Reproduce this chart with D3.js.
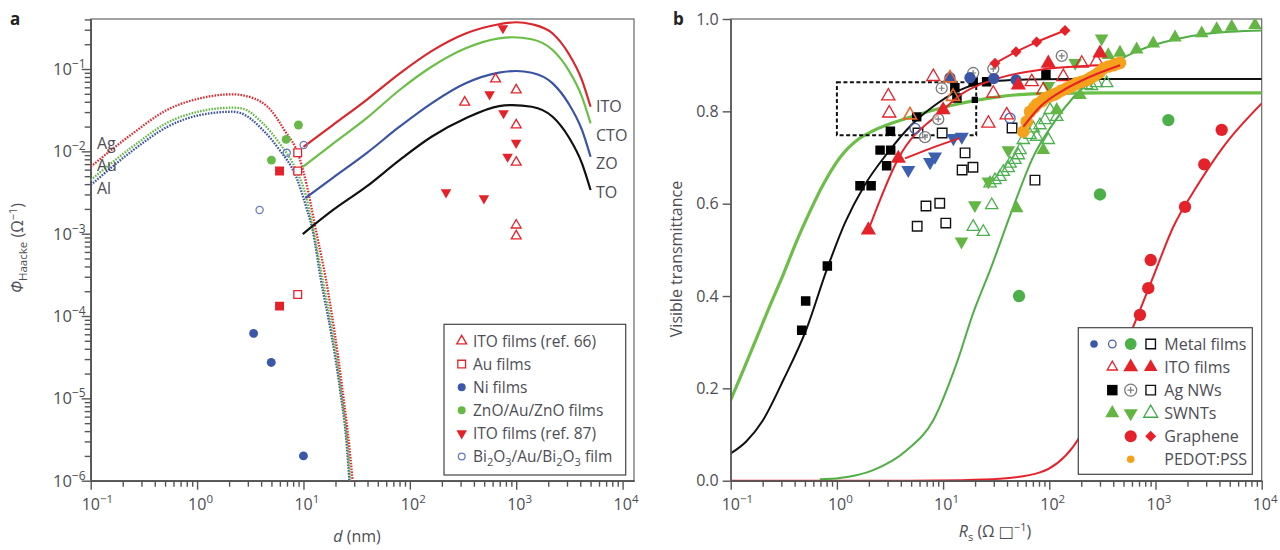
<!DOCTYPE html>
<html><head><meta charset="utf-8">
<script src="https://cdn.jsdelivr.net/npm/d3@7/dist/d3.min.js"></script>
<style>html,body{margin:0;padding:0;background:#fff}svg{display:block}</style>
</head><body>
<svg id="chart" width="1280" height="550"></svg>
<script>
// ================= Panel a data =================
const aXTicks = [0.1, 1, 10, 100, 1000, 10000];
const aYTicks = [1e-6, 1e-5, 1e-4, 1e-3, 1e-2, 1e-1];
// metal films (dotted)
const agCurve = [[0.1,0.0065],[0.25,0.0166],[0.52,0.0318],[1.06,0.044],[2.16,0.0493],[2.6,0.0483],[4.6,0.0348],[6.6,0.0182],[9.1,0.0086],[11,3.39e-3],[13.1,1.1e-3],[16.3,2.73e-4],[19.5,6.7e-5],[23.3,1.26e-5],[27,2.58e-6],[29,1e-6]];
const auCurve = [[0.1,4.48e-3],[0.25,0.0115],[0.52,0.0221],[1.06,0.0306],[2.16,0.0339],[2.6,0.0333],[4.15,0.0219],[5.96,0.0125],[8.54,5.93e-3],[10.6,2.81e-3],[12.2,1.21e-3],[15.2,2.73e-4],[18.8,6.2e-5],[22.5,1.26e-5],[26,2.58e-6],[27.5,1e-6]];
const alCurve = [[0.1,3.89e-3],[0.25,0.0103],[0.52,0.0197],[1.06,0.0276],[2.16,0.0303],[2.6,0.029],[4.15,0.0182],[5.96,0.0104],[8.54,4.9e-3],[10.6,2.12e-3],[12.2,1.1e-3],[14.6,2.73e-4],[18.2,6.2e-5],[22.1,1.26e-5],[25.6,2.58e-6],[27,1e-6]];
// oxide films (solid)
const itoCurve = [[10,0.0113],[19,0.021],[39,0.042],[80,0.088],[160,0.165],[335,0.27],[690,0.35],[1000,0.37],[1400,0.35],[2200,0.27],[3100,0.155],[4150,0.0735],[5000,0.0348]];
const ctoCurve = [[9.8,6.44e-3],[19,0.01245],[39,0.0251],[80,0.0556],[160,0.1066],[335,0.1786],[690,0.236],[920,0.243],[1400,0.230],[2200,0.170],[3100,0.0972],[4150,0.046],[5000,0.0219]];
const zoCurve = [[10.4,2.71e-3],[19,4.81e-3],[39,9.46e-3],[80,0.0199],[160,0.0383],[335,0.067],[690,0.0902],[1000,0.0946],[1400,0.0902],[2200,0.067],[3100,0.0383],[4150,0.0182],[5000,8.59e-3]];
const toCurve = [[9.85,9.9e-4],[19,1.94e-3],[39,3.72e-3],[80,7.83e-3],[160,0.01503],[335,0.0252],[690,0.0355],[920,0.0365],[1400,0.0348],[2200,0.0263],[3100,0.01503],[4150,7.15e-3],[5000,3.39e-3]];
// scatter
const ito66 = [[640,0.0756],[328,0.0394],[1000,0.0556],[1000,0.0209],[1000,7.35e-3],[1000,1.27e-3],[1000,9.36e-4]];
const auFilms = [[8.83,9.62e-3],[8.83,5.77e-3],[8.83,1.83e-4]];
const auFilledSq = [[5.96,5.77e-3],[5.96,1.32e-4]];
const niFilms = [[3.40,6.15e-5],[4.98,2.73e-5],[10,2.0e-6]];
const znoFilms = [[5.0,7.83e-3],[6.88,0.014],[8.97,0.0209]];
const ito87 = [[750,0.313],[562,0.0493],[760,0.029],[998,0.0127],[830,8.59e-3],[219,3.18e-3],[497,2.69e-3]];
const bi2o3Films = [[3.87,1.94e-3],[6.97,9.6e-3],[10.05,0.01194]];

// ================= Panel b data =================
const bXTicks = [0.1, 1, 10, 100, 1000, 10000];
const bYTicks = [0, 0.2, 0.4, 0.6, 0.8, 1.0];
const zoomBox = [1, 20.5, 0.748, 0.863]; // Rs from, Rs to, T from, T to
// fits
const fitGreenThick = [[0.1,0.175],[0.13,0.237],[0.176,0.31],[0.24,0.385],[0.313,0.447],[0.42,0.52],[0.52,0.568],[0.75,0.643],[1.07,0.70],[1.6,0.74],[2.2,0.758],[4.54,0.785],[11.6,0.812],[34.3,0.832],[100,0.839],[300,0.840],[10000,0.840]];
const fitBlack = [[0.1,0.059],[0.14,0.085],[0.2,0.13],[0.313,0.218],[0.52,0.33],[0.8,0.456],[1.2,0.56],[1.8,0.638],[3,0.71],[5,0.77],[8,0.81],[14,0.845],[30,0.865],[60,0.869],[150,0.87],[10000,0.87]];
const fitGreenSteep = [[0.69,0.003],[1.07,0.006],[2.2,0.023],[4.54,0.066],[8.09,0.131],[13.4,0.254],[19.2,0.363],[27.7,0.456],[45.8,0.593],[70.7,0.702],[109,0.774],[168,0.83],[300,0.88],[463,0.912],[665,0.93],[1472,0.955],[3034,0.968],[10000,0.975]];
const fitGraphene = [[0.1,0],[5,0],[15,0.001],[34.3,0.004],[81.7,0.018],[168,0.074],[259,0.146],[431,0.254],[618,0.334],[953,0.442],[1472,0.55],[2443,0.637],[4350,0.723],[10000,0.817]];
const fitIto = [[1.98,0.543],[3.79,0.698],[10,0.803],[14.4,0.835],[29.5,0.868],[87.3,0.891],[320,0.900]];
const fitItoShort = [[4.38,0.698],[8.1,0.722],[14.4,0.742]];
const fitPedot = [[57,0.767],[82,0.81],[146,0.85],[242,0.875],[463,0.9]];
// scatter
const metalBlue = [[11.6,0.873],[17.9,0.873],[30,0.871],[48.6,0.868]];
const metalBlueOpen = [[5.44,0.763],[42.7,0.785]];
const metalGreen = [[51.9,0.40],[300,0.62],[1321,0.781]];
const openSquares = [[5.8,0.753],[9.8,0.753],[16.1,0.71],[19.1,0.679],[15.1,0.673],[6.9,0.595],[9.3,0.601],[5.7,0.551],[10.6,0.558],[73.3,0.651],[44.6,0.764]];
const itoOpen = [[8.09,0.875],[3.05,0.833],[3.11,0.796],[29.7,0.839],[68.3,0.864],[87.8,0.846],[135.5,0.875],[202,0.904],[279,0.908],[26.7,0.774],[39.7,0.792]];
const itoOpenOrange = [[4.88,0.792],[11.6,0.872],[12.4,0.832]];
const itoFilled = [[1.98,0.543],[3.79,0.698],[10,0.803],[51.1,0.857],[97.9,0.904],[300,0.926]];
const agNwFilled = [[0.466,0.326],[0.508,0.389],[0.813,0.465],[1.65,0.639],[2.10,0.639],[2.55,0.716],[3.21,0.716],[2.94,0.682],[3.19,0.757],[5.64,0.788],[12.9,0.851],[13.5,0.829],[19.2,0.864],[25.7,0.864],[93,0.880]];
const agNwFilledSmall = [[19.9,0.825]];
const agNwPlus = [[9.7,0.850],[9.0,0.783],[6.75,0.744],[19.2,0.883],[29.7,0.892],[131,0.920]];
const blueDown = [[4.70,0.673],[7.53,0.690],[8.39,0.702],[12.5,0.742],[15.0,0.745]];
const swntUp = [[49.3,0.59],[87.8,0.716],[117.5,0.803],[194.5,0.835],[359,0.922],[463,0.927],[665,0.934],[953,0.947],[1527,0.960],[2723,0.969],[3770,0.978],[5220,0.983],[8650,0.987]];
const swntDown = [[311,0.958],[175,0.905],[98,0.855],[41.1,0.716],[26.7,0.648],[19.9,0.597],[14.9,0.518]];
const swntOpen = [[28.7,0.597],[19.2,0.55],[23.9,0.539],[27.7,0.644],[30.8,0.651],[34.3,0.658],[36.9,0.669],[41.1,0.677],[42.7,0.687],[47.5,0.695],[51.1,0.705],[53,0.716],[56.9,0.738],[65.8,0.749],[70.7,0.763],[81.7,0.770],[91.1,0.781],[101.6,0.803],[117.5,0.788],[98,0.738],[76,0.745],[225,0.857],[250,0.855],[279,0.861],[347,0.861]];
const grapheneCircle = [[714,0.359],[855,0.417],[901,0.478],[1897,0.593],[2879,0.685],[4200,0.760]];
const grapheneDiamond = [[30.8,0.904],[48.6,0.929],[76,0.950],[140.6,0.975]];
const pedot = [[56.9,0.756],[61.3,0.778],[65.8,0.799],[72,0.808],[76,0.815],[85,0.822],[91.1,0.828],[100,0.832],[110,0.836],[117.5,0.839],[130,0.845],[146,0.850],[157,0.853],[170,0.857],[181,0.861],[200,0.864],[225,0.868],[242,0.872],[260,0.876],[285,0.882],[300,0.885],[323,0.893],[360,0.897],[401,0.900],[430,0.903],[463,0.905]];

// ================= drawing =================
const FONT = '"Open Sans", "Noto Sans", "DejaVu Sans", sans-serif';
const TXT = '#4d4d55';
const AXC = '#555';
const RED = '#e5222a', GREEN = '#66b946', BLUE = '#3b57a7', ORANGE = '#f6a11c', ORTRI = '#e8682a', GRAY = '#7b7b7b';

const svg = d3.select('#chart').attr('font-family', FONT);

function minorLog(lo, hi, max) {
  const out = [];
  for (let k = lo; k <= hi; k++) for (let m = 2; m <= 9; m++) { const v = m * Math.pow(10, k); if (v <= max) out.push(v); }
  return out;
}
function marks(g, data, xs, ys, o) {
  const gen = d3.symbol().type(o.type).size(o.size);
  g.append('g').selectAll('path').data(data).join('path')
    .attr('d', gen)
    .attr('transform', d => `translate(${xs(d[0])},${ys(d[1])})` + (o.rot ? ` rotate(${o.rot})` : ''))
    .attr('fill', o.fill || 'none').attr('stroke', o.stroke || 'none').attr('stroke-width', o.sw || 1)
    .attr('opacity', o.op || 1);
}
function plusMarks(g, data, xs, ys, r) {
  const s = g.append('g').selectAll('g').data(data).join('g')
    .attr('transform', d => `translate(${xs(d[0])},${ys(d[1])})`);
  s.append('circle').attr('r', r).attr('fill', 'rgba(255,255,255,0.55)').attr('stroke', GRAY).attr('stroke-width', 1.3);
  s.append('path').attr('d', `M${-r*0.55},0H${r*0.55}M0,${-r*0.55}V${r*0.55}`).attr('stroke', GRAY).attr('stroke-width', 1.2);
}
function supText(sel, base, exp, size) {
  sel.append('tspan').text(base);
  sel.append('tspan').attr('dy', -7).attr('font-size', size).text(exp);
}
const expStr = d => String(Math.round(Math.log10(d))).replace('-', '\u2212');

// ---------- Panel a ----------
const xA = d3.scaleLog().domain([0.1, 12800]).range([90.7, 634]);
const yA = d3.scaleLog().domain([1e-6, 0.405]).range([480.7, 19]);
const gA = svg.append('g');
gA.append('defs').append('clipPath').attr('id', 'clipA').append('rect')
  .attr('x', xA.range()[0]).attr('y', yA.range()[1]).attr('width', xA.range()[1] - xA.range()[0]).attr('height', yA.range()[0] - yA.range()[1]);
gA.append('rect').attr('x', xA.range()[0]).attr('y', yA.range()[1]).attr('width', xA.range()[1] - xA.range()[0]).attr('height', yA.range()[0] - yA.range()[1])
  .attr('fill', 'none').attr('stroke', '#666').attr('stroke-width', 1.2);

// axes a
const axA = gA.append('g').attr('color', AXC);
axA.append('g').attr('transform', `translate(0,${yA.range()[0]})`)
  .call(d3.axisBottom(xA).tickValues(aXTicks).tickSize(9).tickSizeOuter(0).tickFormat(() => ''));
axA.append('g').attr('transform', `translate(0,${yA.range()[0]})`)
  .call(d3.axisBottom(xA).tickValues(minorLog(-1, 3, 1e4)).tickSize(6).tickSizeOuter(0).tickFormat(() => ''));
axA.append('g').attr('transform', `translate(${xA.range()[0]},0)`)
  .call(d3.axisLeft(yA).tickValues(aYTicks).tickSize(9).tickSizeOuter(0).tickFormat(() => ''));
axA.append('g').attr('transform', `translate(${xA.range()[0]},0)`)
  .call(d3.axisLeft(yA).tickValues(minorLog(-6, -1, 0.405)).tickSize(6).tickSizeOuter(0).tickFormat(() => ''));
axA.selectAll('path,line').attr('stroke-width', 1.4);

gA.append('g').selectAll('text').data(aXTicks).join('text')
  .attr('x', d => xA(d) - 9).attr('y', yA.range()[0] + 29).attr('fill', TXT).attr('font-size', 16)
  .each(function (d) { supText(d3.select(this), '10', expStr(d), 11.5); });
gA.append('g').selectAll('text').data(aYTicks).join('text')
  .attr('x', xA.range()[0] - 5).attr('y', d => yA(d) + 6).attr('text-anchor', 'end').attr('fill', TXT).attr('font-size', 16.5)
  .each(function (d) { supText(d3.select(this), '10', expStr(d), 12); });

// curves a
const plotA = gA.append('g').attr('clip-path', 'url(#clipA)');
const lineA = d3.line().x(d => xA(d[0])).y(d => yA(d[1])).curve(d3.curveMonotoneX);
[[alCurve, '#3a53a4'], [auCurve, '#62b946'], [agCurve, '#e02a2f']].forEach(([c, col]) => {
  plotA.append('path').attr('d', lineA(c)).attr('fill', 'none').attr('stroke', col).attr('stroke-width', 2.3).attr('stroke-dasharray', '1.6,1.3');
});
[[toCurve, '#111'], [zoCurve, '#3a53a4'], [ctoCurve, '#6abf47'], [itoCurve, '#d8282e']].forEach(([c, col]) => {
  plotA.append('path').attr('d', lineA(c)).attr('fill', 'none').attr('stroke', col).attr('stroke-width', 2.2);
});
// scatter a
marks(plotA, ito66, xA, yA, { type: d3.symbolTriangle, size: 42, stroke: RED, sw: 1.3, fill: 'white' });
marks(plotA, auFilms, xA, yA, { type: d3.symbolSquare, size: 60, stroke: RED, sw: 1.3, fill: 'white' });
marks(plotA, auFilledSq, xA, yA, { type: d3.symbolSquare, size: 80, fill: RED });
marks(plotA, niFilms, xA, yA, { type: d3.symbolCircle, size: 62, fill: BLUE });
marks(plotA, znoFilms, xA, yA, { type: d3.symbolCircle, size: 62, fill: GREEN });
marks(plotA, ito87, xA, yA, { type: d3.symbolTriangle, size: 48, fill: RED, rot: 180 });
marks(plotA, bi2o3Films, xA, yA, { type: d3.symbolCircle, size: 40, stroke: '#6a7cbf', sw: 1.3, fill: 'none' });

// curve labels a
const labA = gA.append('g').attr('fill', TXT).attr('font-size', 16);
[['Ag', 97, 149], ['Au', 97, 171], ['Al', 97, 194]].forEach(([t, x, y]) => labA.append('text').attr('x', x).attr('y', y).text(t));
[['ITO', 596, 112], ['CTO', 596, 141], ['ZO', 596, 169], ['TO', 596, 198]].forEach(([t, x, y]) => labA.append('text').attr('x', x).attr('y', y).text(t));

// legend a
const legA = gA.append('g');
legA.append('rect').attr('x', 444).attr('y', 324.3).attr('width', 181.7).attr('height', 150.7).attr('fill', 'white').attr('stroke', '#444').attr('stroke-width', 1.2);
const legAItems = [
  { t: 'ITO films (ref. 66)', s: { type: d3.symbolTriangle, size: 42, stroke: RED, sw: 1.3 } },
  { t: 'Au films', s: { type: d3.symbolSquare, size: 60, stroke: RED, sw: 1.3 } },
  { t: 'Ni films', s: { type: d3.symbolCircle, size: 50, fill: BLUE } },
  { t: 'ZnO/Au/ZnO films', s: { type: d3.symbolCircle, size: 50, fill: GREEN } },
  { t: 'ITO films (ref. 87)', s: { type: d3.symbolTriangle, size: 48, fill: RED, rot: 180 } },
  { t: 'BI', s: { type: d3.symbolCircle, size: 36, stroke: '#6a7cbf', sw: 1.3 } }
];
legAItems.forEach((it, i) => {
  const cy = 341 + i * 23.1;
  marks(legA, [[0, 0]], () => 461.7, () => cy, it.s);
  const t = legA.append('text').attr('x', 473).attr('y', cy + 5.5).attr('fill', TXT).attr('font-size', 15.5);
  if (it.t === 'BI') {
    const parts = [['Bi', 0], ['2', 4], ['O', -4], ['3', 4], ['/Au/Bi', -4], ['2', 4], ['O', -4], ['3', 4], [' film', -4]];
    parts.forEach(([s, dy]) => t.append('tspan').attr('dy', dy).attr('font-size', dy > 0 ? 11 : 15.5).text(s));
  } else t.text(it.t);
});

// axis titles a
const ta = gA.append('text').attr('x', 357).attr('y', 542).attr('text-anchor', 'middle').attr('fill', TXT).attr('font-size', 16);
ta.append('tspan').attr('font-style', 'italic').text('d');
ta.append('tspan').text(' (nm)');
const tay = gA.append('text').attr('transform', 'translate(23,248) rotate(-90)').attr('text-anchor', 'middle').attr('fill', TXT).attr('font-size', 16);
tay.append('tspan').attr('font-style', 'italic').text('Φ');
tay.append('tspan').attr('font-size', 11.5).attr('dy', 4).text('Haacke');
tay.append('tspan').attr('dy', -4).text(' (Ω');
tay.append('tspan').attr('dy', -6).attr('font-size', 11).text('\u22121');
tay.append('tspan').attr('dy', 6).text(')');
svg.append('text').attr('x', 10).attr('y', 25).attr('font-weight', 'bold').attr('font-size', 17).attr('fill', '#222').text('a');

// ---------- Panel b ----------
const xB = d3.scaleLog().domain([0.1, 1e4]).range([730.7, 1261.7]);
const yB = d3.scaleLinear().domain([0, 1]).range([480.7, 19]);
const gB = svg.append('g');
gB.append('defs').append('clipPath').attr('id', 'clipB').append('rect')
  .attr('x', xB.range()[0]).attr('y', yB.range()[1]).attr('width', xB.range()[1] - xB.range()[0]).attr('height', yB.range()[0] - yB.range()[1]);
gB.append('rect').attr('x', xB.range()[0]).attr('y', yB.range()[1]).attr('width', xB.range()[1] - xB.range()[0]).attr('height', yB.range()[0] - yB.range()[1])
  .attr('fill', 'none').attr('stroke', '#666').attr('stroke-width', 1.2);

const plotB = gB.append('g').attr('clip-path', 'url(#clipB)');
const lineB = d3.line().x(d => xB(d[0])).y(d => yB(d[1])).curve(d3.curveMonotoneX);
function curveB(c, col, w) { plotB.append('path').attr('d', lineB(c)).attr('fill', 'none').attr('stroke', col).attr('stroke-width', w); }
curveB(fitGraphene, RED, 2);
curveB(fitGreenThick, '#6cbe48', 3.2);
curveB(fitBlack, '#111', 2);
curveB(fitGreenSteep, '#4fae45', 2);

// dashed box
plotB.append('rect').attr('x', xB(zoomBox[0])).attr('y', yB(zoomBox[3])).attr('width', xB(zoomBox[1]) - xB(zoomBox[0])).attr('height', yB(zoomBox[2]) - yB(zoomBox[3]))
  .attr('fill', 'none').attr('stroke', '#111').attr('stroke-width', 2).attr('stroke-dasharray', '4,2.5');

marks(plotB, openSquares, xB, yB, { type: d3.symbolSquare, size: 90, stroke: '#111', sw: 1.4, fill: 'white' });
marks(plotB, swntOpen, xB, yB, { type: d3.symbolTriangle, size: 65, stroke: '#4caf50', sw: 1.3, fill: 'none' });
marks(plotB, swntDown, xB, yB, { type: d3.symbolTriangle, size: 80, fill: '#63b544', rot: 180 });
marks(plotB, swntUp, xB, yB, { type: d3.symbolTriangle, size: 80, fill: '#63b544' });
marks(plotB, agNwFilled, xB, yB, { type: d3.symbolSquare, size: 90, fill: '#000' });
marks(plotB, agNwFilledSmall, xB, yB, { type: d3.symbolSquare, size: 40, fill: '#000' });
marks(plotB, blueDown, xB, yB, { type: d3.symbolTriangle, size: 85, fill: '#3d5fb0', rot: 180 });
curveB(fitItoShort, RED, 2);
curveB(fitIto, RED, 2);
plusMarks(plotB, agNwPlus, xB, yB, 5.5);
marks(plotB, metalBlueOpen, xB, yB, { type: d3.symbolCircle, size: 80, stroke: '#4a63b0', sw: 1.3, fill: 'none' });
marks(plotB, metalBlue, xB, yB, { type: d3.symbolCircle, size: 100, fill: '#3b55a6' });
marks(plotB, itoOpen, xB, yB, { type: d3.symbolTriangle, size: 75, stroke: RED, sw: 1.3, fill: 'none' });
marks(plotB, itoOpenOrange, xB, yB, { type: d3.symbolTriangle, size: 75, stroke: ORTRI, sw: 1.6, fill: 'none' });
marks(plotB, itoFilled, xB, yB, { type: d3.symbolTriangle, size: 100, fill: RED });
marks(plotB, metalGreen, xB, yB, { type: d3.symbolCircle, size: 120, fill: '#4cb04a' });
marks(plotB, grapheneCircle, xB, yB, { type: d3.symbolCircle, size: 120, fill: RED });
curveB(grapheneDiamond, RED, 2);
marks(plotB, grapheneDiamond, xB, yB, { type: d3.symbolSquare, size: 60, fill: RED, rot: 45 });
marks(plotB, pedot, xB, yB, { type: d3.symbolCircle, size: 125, fill: ORANGE });
curveB(fitPedot, RED, 2.2);

// axes b
const axB = gB.append('g').attr('color', AXC);
axB.append('g').attr('transform', `translate(0,${yB.range()[0]})`)
  .call(d3.axisBottom(xB).tickValues(bXTicks).tickSize(9).tickSizeOuter(0).tickFormat(() => ''));
axB.append('g').attr('transform', `translate(0,${yB.range()[0]})`)
  .call(d3.axisBottom(xB).tickValues(minorLog(-1, 3, 1e4)).tickSize(6).tickSizeOuter(0).tickFormat(() => ''));
axB.append('g').attr('transform', `translate(${xB.range()[0]},0)`)
  .call(d3.axisLeft(yB).tickValues(bYTicks).tickSize(8).tickSizeOuter(0).tickPadding(4).tickFormat(d3.format('.1f')));
axB.selectAll('path,line').attr('stroke-width', 1.4);
axB.selectAll('text').attr('fill', TXT).attr('font-size', 16).attr('font-family', FONT);
gB.append('g').selectAll('text').data(bXTicks).join('text')
  .attr('x', d => xB(d) - 9).attr('y', yB.range()[0] + 29).attr('fill', TXT).attr('font-size', 16)
  .each(function (d) { supText(d3.select(this), '10', expStr(d), 11.5); });

// titles b
const tb = gB.append('text').attr('x', 995).attr('y', 537).attr('text-anchor', 'middle').attr('fill', TXT).attr('font-size', 16);
tb.append('tspan').attr('font-style', 'italic').text('R');
tb.append('tspan').attr('font-size', 11).attr('dy', 4).text('s');
tb.append('tspan').attr('dy', -4).text(' (Ω □');
tb.append('tspan').attr('dy', -6).attr('font-size', 11).text('\u22121');
tb.append('tspan').attr('dy', 6).text(')');
gB.append('text').attr('transform', 'translate(682,259) rotate(-90)').attr('text-anchor', 'middle').attr('fill', TXT).attr('font-size', 16).text('Visible transmittance');
svg.append('text').attr('x', 673).attr('y', 25).attr('font-weight', 'bold').attr('font-size', 17).attr('fill', '#222').text('b');

// legend b
const legB = gB.append('g');
legB.append('rect').attr('x', 1078.3).attr('y', 327.7).attr('width', 174).attr('height', 146.6).attr('fill', 'white').attr('stroke', '#444').attr('stroke-width', 1.2);
const c1 = 1094, c2 = 1112.3, c3 = 1130.7, c4 = 1150.7;
const legBRows = [
  { t: 'Metal films', s: [[c1, { type: d3.symbolCircle, size: 45, fill: BLUE }], [c2, { type: d3.symbolCircle, size: 45, stroke: '#4a63b0', sw: 1.3 }], [c3, { type: d3.symbolCircle, size: 110, fill: '#4cb04a' }], [c4, { type: d3.symbolSquare, size: 90, stroke: '#111', sw: 1.4 }]] },
  { t: 'ITO films', s: [[c2, { type: d3.symbolTriangle, size: 45, stroke: RED, sw: 1.3 }], [c3, { type: d3.symbolTriangle, size: 95, fill: RED }], [c4, { type: d3.symbolTriangle, size: 80, fill: RED }]] },
  { t: 'Ag NWs', s: [[c2, { type: d3.symbolSquare, size: 110, fill: '#000' }], [c4, { type: d3.symbolSquare, size: 90, stroke: '#111', sw: 1.4 }]], plus: c3 },
  { t: 'SWNTs', s: [[c2, { type: d3.symbolTriangle, size: 85, fill: '#63b544' }], [c3, { type: d3.symbolTriangle, size: 85, fill: '#63b544', rot: 180 }], [c4, { type: d3.symbolTriangle, size: 85, stroke: '#3fa84a', sw: 1.3 }]] },
  { t: 'Graphene', s: [[c3, { type: d3.symbolCircle, size: 115, fill: RED }], [c4, { type: d3.symbolSquare, size: 60, fill: RED, rot: 45 }]] },
  { t: 'PEDOT:PSS', s: [[c3, { type: d3.symbolCircle, size: 45, fill: ORANGE }]] }
];
legBRows.forEach((r, i) => {
  const cy = 344 + i * 23.06;
  r.s.forEach(([cx, o]) => marks(legB, [[0, 0]], () => cx, () => cy, o));
  if (r.plus) plusMarks(legB, [[0, 0]], () => r.plus, () => cy, 6);
  legB.append('text').attr('x', 1164.3).attr('y', cy + 5.5).attr('fill', TXT).attr('font-size', 16).text(r.t);
});
</script>
</body></html>
